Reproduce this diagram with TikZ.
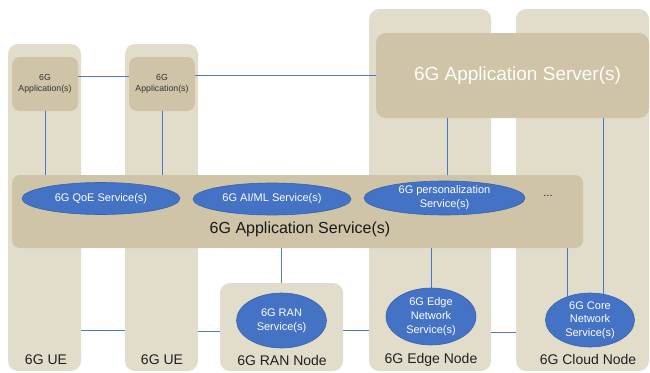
\documentclass[tikz,border=0pt]{standalone}
\usepackage{fontspec}
\setmainfont{Liberation Sans}
\usetikzlibrary{shapes.geometric,calc}
\definecolor{colfill}{HTML}{E2DDCB}
\definecolor{boxfill}{HTML}{CFC4A7}
\definecolor{svcblue}{HTML}{4472C4}
\definecolor{svcedge}{HTML}{3A63AE}
\definecolor{linkblue}{HTML}{4A78CC}
\pgfdeclarelayer{front}
\pgfsetlayers{main,front}
\tikzset{
  colbox/.style={fill=colfill, draw=none, rounded corners=10pt, inner sep=0pt},
  appbox/.style={fill=boxfill, draw=none, rounded corners=8pt, inner sep=0pt, align=center,
    text=black!80, font=\fontsize{8.75}{11}\selectfont},
  svc/.style={ellipse, fill=svcblue, draw=svcedge, line width=0.6pt, inner sep=0pt, align=center,
    text=white, font=\fontsize{11}{13.7}\selectfont},
  conn/.style={draw=linkblue, line width=0.8pt},
  botlbl/.style={text=black!88, font=\fontsize{14}{16}\selectfont, inner sep=0pt},
}
\begin{document}
\begin{tikzpicture}[x=1pt,y=-1pt]
\useasboundingbox (0,0) rectangle (650,372);
% columns
\node[colbox, minimum width=73pt, minimum height=327pt] (ue1) at (44.5,207.5) {};
\node[colbox, minimum width=73pt, minimum height=327pt] (ue2) at (161.5,207.5) {};
\node[colbox, minimum width=123pt, minimum height=88pt] (ran) at (281.5,327) {};
\node[colbox, minimum width=122pt, minimum height=362pt] (edge) at (430,190) {};
\node[colbox, minimum width=133pt, minimum height=362pt] (cloud) at (582.5,190) {};
% application boxes
\node[appbox, minimum width=66pt, minimum height=54pt] (app1) at (45,84) {6G\\Application(s)};
\node[appbox, minimum width=66pt, minimum height=54pt] (app2) at (162,84) {6G\\Application(s)};
\node[appbox, rounded corners=10pt, minimum width=273pt, minimum height=85pt, text=white!96!boxfill,
  font=\fontsize{19}{22}\selectfont] (server) at (512.5,75.5) {\hspace*{10pt}6G Application Server(s)};
\node[appbox, minimum width=571pt, minimum height=73pt] (bar) at (297.5,211.5) {};
\node[text=black!90, font=\fontsize{16}{19}\selectfont, inner sep=0pt] (barlbl) at (300,229) {6G Application Service(s)};
% services
\begin{pgfonlayer}{front}
\node[svc, minimum width=158pt, minimum height=32pt] (qoe) at (101,198.5) {6G QoE Service(s)};
\node[svc, minimum width=158pt, minimum height=32pt] (aiml) at (272,199) {6G AI/ML Service(s)};
\node[svc, minimum width=161pt, minimum height=34pt] (pers) at (444.5,198) {6G personalization\\Service(s)};
\node[svc, minimum width=90pt, minimum height=55pt] (ranS) at (281.5,320.5) {6G RAN\\Service(s)};
\node[svc, minimum width=90pt, minimum height=57pt] (edgeS) at (431,316.5) {6G Edge\\Network\\Service(s)};
\node[svc, minimum width=89pt, minimum height=54pt] (coreS) at (590,320) {6G Core\\Network\\Service(s)};
\end{pgfonlayer}
\node[text=black!85, font=\fontsize{11}{13}\selectfont, inner sep=0pt] (dots) at (548,196) {...};
% bottom labels
\node[botlbl] (ue1lbl) at (46,360) {6G UE};
\node[botlbl] (ue2lbl) at (162,360) {6G UE};
\node[botlbl] (ranlbl) at (282,360) {6G RAN Node};
\node[botlbl] (edgelbl) at (431,360) {6G Edge Node};
\node[botlbl] (cloudlbl) at (588,359) {6G Cloud Node};
% connectors
\draw[conn] ([yshift=8pt]app1.east) -- ([yshift=8pt]app2.west);
\draw[conn] (server.west -| app2.east) -- (server.west);
\draw[conn] (app1.south) -- (app1.south |- bar.north);
\draw[conn] (app2.south) -- (app2.south |- bar.north);
\coordinate (s1) at ([xshift=72pt]server.south west);
\draw[conn] (s1) -- (s1 |- bar.north);
\coordinate (s2) at ([xshift=228pt]server.south west);
\draw[conn] (s2) -- (s2 |- coreS.center);
\coordinate (c1) at ([xshift=556pt]bar.south west);
\draw[conn] (c1) -- (c1 |- coreS.center);
\draw[conn] (ran.north) -- (ran.north |- bar.south);
\draw[conn] (edgeS.north) -- (edgeS.north |- bar.south);
\path (ue1.south east) ++(0,-41) coordinate (b1);
\draw[conn] (b1) -- (b1 -| ue2.west);
\path (ue2.south east) ++(0,-40) coordinate (b2);
\draw[conn] (b2) -- (b2 -| ran.west);
\path (ran.south east) ++(0,-41) coordinate (b3);
\draw[conn] (b3) -- (b3 -| edge.west);
\path (edge.south east) ++(0,-39) coordinate (b4);
\draw[conn] (b4) -- (b4 -| cloud.west);
\end{tikzpicture}
\end{document}
